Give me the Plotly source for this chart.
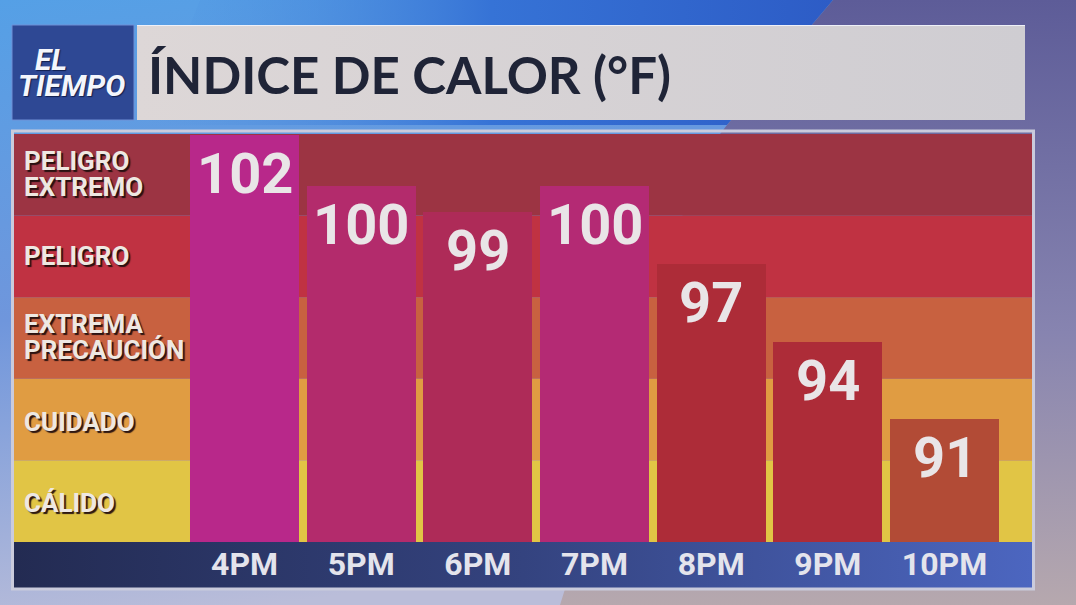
import base64
import plotly.graph_objects as go

# ---------------- data ----------------
hours = ["4PM", "5PM", "6PM", "7PM", "8PM", "9PM", "10PM"]
heat_index = [102, 100, 99, 100, 97, 94, 91]
bands = ["CÁLIDO", "CUIDADO", "EXTREMA\nPRECAUCIÓN", "PELIGRO", "PELIGRO\nEXTREMO"]  # bottom -> top
title_text = "ÍNDICE DE CALOR (°F)"

# ---------------- styles ----------------
W, H = 1076, 605
PL, PR, PT, PB = 14, 1032, 134, 542          # plot area in pixels
bar_colors = ["#B8288A", "#B32B6C", "#AE2B58", "#B42A74", "#AD2C38", "#AD2C38", "#B24B36"]
band_colors = ["#E1C545", "#E09C42", "#C86140", "#C03242", "#9C3443"]
FONT = "Roboto"
label_font = dict(family=FONT, size=26, color="#EEE8E2", weight="bold",
                  shadow="2px 2px 1px rgba(35,15,15,0.95)")


def px(xp):
    return (xp - PL) / (PR - PL)


def py(yp):
    return (PB - yp) / (PB - PT)


def svg_uri(svg):
    return "data:image/svg+xml;base64," + base64.b64encode(svg.encode("utf-8")).decode("ascii")


bg_svg = f'''<svg xmlns="http://www.w3.org/2000/svg" width="{W}" height="{H}" viewBox="0 0 {W} {H}" preserveAspectRatio="none">
<defs>
<linearGradient id="a" x1="0" y1="0" x2="0.25" y2="1">
<stop offset="0" stop-color="#55A0E6"/>
<stop offset="0.5" stop-color="#6F96DC"/>
<stop offset="1" stop-color="#BABDD9"/>
</linearGradient>
<linearGradient id="c" x1="0" y1="0" x2="1" y2="0">
<stop offset="0" stop-color="#4E92E0" stop-opacity="0"/>
<stop offset="0.5" stop-color="#3673D6"/>
<stop offset="1" stop-color="#2D5CC6"/>
</linearGradient>
<linearGradient id="b" x1="0" y1="0" x2="0" y2="1">
<stop offset="0" stop-color="#5D5C98"/>
<stop offset="0.55" stop-color="#8784B0"/>
<stop offset="1" stop-color="#B6A8AE"/>
</linearGradient>
</defs>
<rect width="{W}" height="{H}" fill="url(#a)"/>
<polygon points="200,0 833,0 727,125 150,125" fill="url(#c)"/>
<polygon points="833,0 {W},0 {W},{H} 560,{H} 700,160 727,125" fill="url(#b)"/>
</svg>'''

strip_svg = '''<svg xmlns="http://www.w3.org/2000/svg" width="1018" height="46" viewBox="0 0 1018 46" preserveAspectRatio="none">
<defs><linearGradient id="s" x1="0" y1="0" x2="1" y2="0">
<stop offset="0" stop-color="#232B52"/>
<stop offset="0.5" stop-color="#34437F"/>
<stop offset="1" stop-color="#4C66C0"/>
</linearGradient></defs>
<rect width="1018" height="46" fill="url(#s)"/>
</svg>'''

title_svg = '''<svg xmlns="http://www.w3.org/2000/svg" width="888" height="95" viewBox="0 0 888 95" preserveAspectRatio="none">
<defs><linearGradient id="t" x1="0" y1="0" x2="1" y2="0">
<stop offset="0" stop-color="#DDD7D7"/>
<stop offset="1" stop-color="#CFCDD2"/>
</linearGradient></defs>
<rect width="888" height="95" fill="url(#t)"/>
</svg>'''

fig = go.Figure()
fig.add_trace(go.Bar(
    x=hours, y=heat_index, width=0.934,
    marker=dict(color=bar_colors, line=dict(width=0)),
    hoverinfo="x+y", showlegend=False,
))

images = [
    dict(source=svg_uri(bg_svg), xref="paper", yref="paper", x=px(0), y=py(0),
         sizex=W / (PR - PL), sizey=H / (PB - PT), xanchor="left", yanchor="top",
         sizing="stretch", layer="below"),
    dict(source=svg_uri(strip_svg), xref="paper", yref="paper", x=0, y=0,
         sizex=1, sizey=46 / (PB - PT), xanchor="left", yanchor="top",
         sizing="stretch", layer="below"),
    dict(source=svg_uri(title_svg), xref="paper", yref="paper", x=px(137), y=py(25),
         sizex=888 / (PR - PL), sizey=95 / (PB - PT), xanchor="left", yanchor="top",
         sizing="stretch", layer="below"),
]

shapes = []
n = len(bands)
for i, c in enumerate(band_colors):
    shapes.append(dict(type="rect", xref="x domain", yref="y domain", x0=0, x1=1,
                       y0=i / n, y1=(i + 1) / n, fillcolor=c, line=dict(width=0), layer="below"))
# logo box
shapes.append(dict(type="rect", xref="paper", yref="paper", x0=px(12), x1=px(134), y0=py(120), y1=py(25),
                   fillcolor="#2E4894", line=dict(color="#6F8FD6", width=1), layer="below"))
# title box top highlight
shapes.append(dict(type="line", xref="paper", yref="paper", x0=px(137), x1=px(1025), y0=py(25.5), y1=py(25.5),
                   line=dict(color="#EEF0F8", width=1), layer="below"))
# panel frame
shapes.append(dict(type="rect", xref="paper", yref="paper", x0=px(12.5), x1=px(1033.5), y0=py(589), y1=py(131),
                   fillcolor="rgba(0,0,0,0)", line=dict(color="#CACBDC", width=3), layer="above"))

annotations = []
# band labels (line positions in pixels, cap centres)
line_pos = {
    "PELIGRO\nEXTREMO": [160, 186],
    "PELIGRO": [255],
    "EXTREMA\nPRECAUCIÓN": [323, 349],
    "CUIDADO": [421],
    "CÁLIDO": [502],
}
for b in bands:
    for line, yp in zip(b.split("\n"), line_pos[b]):
        annotations.append(dict(text=line, xref="paper", yref="paper", x=px(22), y=py(yp + 1),
                                xanchor="left", yanchor="middle", showarrow=False, font=label_font))
# value labels
for h, v in zip(hours, heat_index):
    annotations.append(dict(text=str(v), x=h, y=v, xref="x", yref="y", yanchor="top", xanchor="center",
                            yshift=-4, showarrow=False,
                            font=dict(family=FONT, size=56, color="#E9E5E7", weight="bold")))
# title and logo
annotations.append(dict(text=title_text, xref="paper", yref="paper", x=px(146), y=py(74),
                        xanchor="left", yanchor="middle", showarrow=False,
                        font=dict(family="Lato", size=51, color="#1F2437", weight="bold")))
logo_font = dict(family=FONT, size=30, color="#F4F6FC", weight="bold",
                 style="italic", shadow="1px 1px 1px rgba(10,20,60,0.8)")
annotations.append(dict(text="EL", xref="paper", yref="paper", x=px(33), y=py(60),
                        xanchor="left", yanchor="middle", showarrow=False, font=logo_font))
annotations.append(dict(text="TIEMPO", xref="paper", yref="paper", x=px(16), y=py(85),
                        xanchor="left", yanchor="middle", showarrow=False, font=logo_font))

fig.update_layout(
    width=W, height=H,
    margin=dict(l=PL, r=W - PR, t=PT, b=H - PB, pad=0),
    paper_bgcolor="#7A8CC8", plot_bgcolor="rgba(0,0,0,0)",
    bargap=0, showlegend=False,
    images=images, shapes=shapes, annotations=annotations,
    xaxis=dict(type="category", range=[-1.976, 6.75], showgrid=False, zeroline=False, showline=False,
               ticks="", fixedrange=True,
               tickfont=dict(family=FONT, size=32, color="#E4E4EC", weight="bold")),
    yaxis=dict(range=[86.27, 102.02], showgrid=False, zeroline=False, showline=False,
               showticklabels=False, ticks="", fixedrange=True),
)

fig.write_html("out.html", config=dict(displayModeBar=False),
               post_script="document.body.style.margin='0';document.body.style.overflow='hidden';")
